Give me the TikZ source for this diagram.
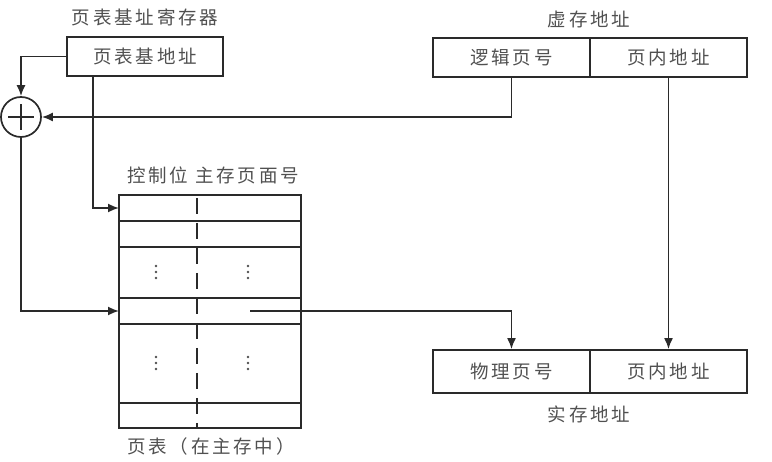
\documentclass[tikz,border=0pt]{standalone}
\usepackage{fontspec}
\newfontfamily\cjk[LetterSpace=15]{Noto Sans CJK SC}
\usetikzlibrary{arrows.meta}
\definecolor{txt}{HTML}{505050}
\definecolor{ln}{HTML}{2A2A2A}
\tikzset{
  box/.style={draw=ln, line width=1.8pt, rectangle, inner sep=0pt, font=\cjk\fontsize{18.5}{18.5}\selectfont, text=txt},
  lbl/.style={font=\cjk\fontsize{18.5}{18.5}\selectfont, text=txt, inner sep=0pt},
  arr/.style={draw=ln, line width=1.7pt, -{Latex[length=11pt,width=9pt]}},
  conn/.style={draw=ln, line width=1.7pt},
  rowline/.style={draw=ln, line width=1.8pt},
  dotc/.style={fill=txt, draw=none}
}
\begin{document}
\begin{tikzpicture}[x=1pt,y=-1pt]
\useasboundingbox (0,0) rectangle (772,462);
% page-table base register
\node[box, minimum width=156pt, minimum height=39pt] (base) at (145,56.5) {页表基地址};
\node[lbl] (baselbl) at (145,17) {页表基址寄存器};
% virtual address
\node[box, minimum width=157pt, minimum height=39pt] (vlog) at (511.5,57.5) {逻辑页号};
\node[box, minimum width=157pt, minimum height=39pt] (voff) at (668.5,57.5) {页内地址};
\node[lbl] (vlbl) at (589,19) {虚存地址};
% physical address
\node[box, minimum width=157pt, minimum height=43pt] (plog) at (511.5,371.5) {物理页号};
\node[box, minimum width=157pt, minimum height=43pt] (poff) at (668.5,371.5) {页内地址};
\node[lbl] (plbl) at (589,414) {实存地址};
% adder
\node[draw=ln, line width=1.7pt, circle, minimum size=40pt, inner sep=0pt] (sum) at (21,117) {};
\draw[conn] ([xshift=-13pt]sum.center) -- ([xshift=13pt]sum.center);
\draw[conn] ([yshift=-13pt]sum.center) -- ([yshift=13pt]sum.center);
% page table
\node[draw=ln, line width=1.8pt, rectangle, minimum width=182pt, minimum height=233pt, inner sep=0pt] (tab) at (210,311.5) {};
\node[lbl] (tabhead) at (213,175) {控制位 主存页面号};
\node[lbl] (tablbl) at (211,446) {页表（在主存中）};
\foreach \y in {221,247,298,324,403}{
  \draw[rowline] (tab.west |- 0,\y) -- (tab.east |- 0,\y);
}
\draw[draw=ln, line width=1.8pt, dash pattern=on 16pt off 9pt, dash phase=-3pt] (197,195) -- (197,428);
\foreach \x in {156,248}{
  \foreach \yc in {272,363}{
    \fill[dotc] (\x,\yc-6) circle (1.4pt);
    \fill[dotc] (\x,\yc) circle (1.4pt);
    \fill[dotc] (\x,\yc+6) circle (1.4pt);
  }
}
\coordinate (row1) at (119,208);
\coordinate (rowk) at (119,311);
\coordinate (entry) at (250,311);
% connectors
\draw[arr] (base.west) -| (sum.north);
\draw[arr] (vlog.south) |- (sum.east);
\draw[arr] ([xshift=-52pt]base.south) |- (row1);
\draw[arr] (sum.south) |- (rowk);
\draw[arr] (entry) -| (plog.north);
\draw[arr] (voff.south) -- (poff.north);
\end{tikzpicture}
\end{document}
